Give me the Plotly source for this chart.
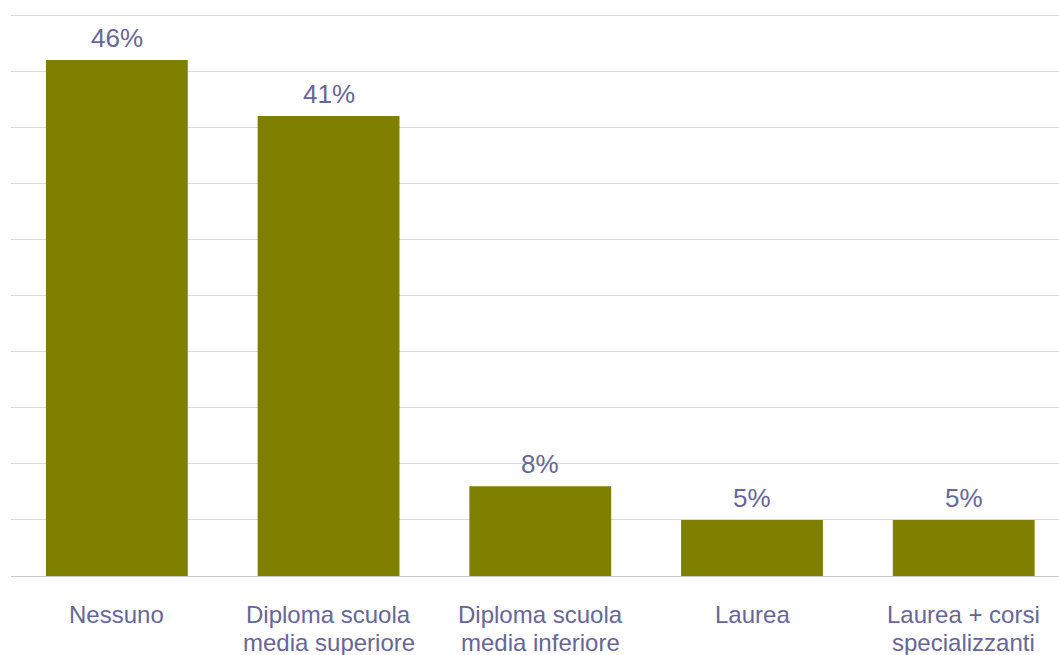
import plotly.graph_objects as go

# Titolo di studio: quota percentuale per categoria
categorie = [
    "Nessuno",
    "Diploma scuola<br>media superiore",
    "Diploma scuola<br>media inferiore",
    "Laurea",
    "Laurea + corsi<br>specializzanti",
]
percentuali = [46, 41, 8, 5, 5]
etichette = [f"{v}%" for v in percentuali]

BAR_COLOR = "#808000"
TEXT_COLOR = "#666699"
FONT = "Liberation Sans, Arial, sans-serif"

fig = go.Figure(
    go.Bar(
        x=list(range(len(categorie))),
        y=percentuali,
        marker=dict(color=BAR_COLOR, line=dict(width=0)),
        width=0.67,
        hoverinfo="skip",
    )
)

# value labels above each bar
for i, (v, t) in enumerate(zip(percentuali, etichette)):
    fig.add_annotation(
        x=i, y=v, text=t, showarrow=False,
        yanchor="bottom", yshift=5,
        font=dict(family=FONT, size=26, color=TEXT_COLOR),
    )

# category labels under the axis, one annotation per line for tighter leading
for i, cat in enumerate(categorie):
    for k, riga in enumerate(cat.split("<br>")):
        fig.add_annotation(
            x=i, y=0, text=riga, showarrow=False,
            yanchor="middle", yshift=-(38 + 28 * k),
            font=dict(family=FONT, size=24, color=TEXT_COLOR),
        )

fig.update_layout(
    width=1059,
    height=655,
    margin=dict(l=11, r=0, t=14, b=79),
    paper_bgcolor="white",
    plot_bgcolor="white",
    showlegend=False,
    font=dict(family=FONT, color=TEXT_COLOR),
)
fig.update_xaxes(
    range=[-0.5, 4.45],
    showticklabels=False,
    showgrid=False,
    showline=False,
    ticks="",
)
fig.update_yaxes(
    range=[0, 50.1],
    dtick=5,
    showgrid=True,
    gridcolor="#D9D9D9",
    gridwidth=1,
    zeroline=True,
    zerolinecolor="#C8C8C8",
    zerolinewidth=1,
    showticklabels=False,
    ticks="",
)

fig.write_html("out.html")
